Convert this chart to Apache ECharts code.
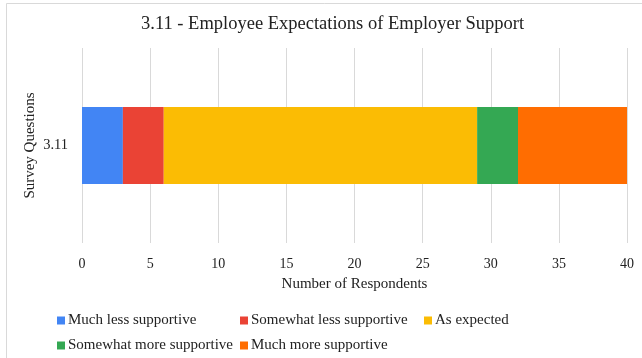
<!DOCTYPE html>
<html>
<head>
<meta charset="utf-8">
<script src="https://cdn.jsdelivr.net/npm/echarts@6/dist/echarts.min.js"></script>
<style>
  html, body { margin: 0; padding: 0; background: #fff; }
  #chart { width: 642px; height: 358px; }
</style>
</head>
<body>
<div id="chart"></div>
<script>
// Survey question(s) shown on the category axis
const questions = ['3.11'];

// Response options, in stacking order
const responses = [
  'Much less supportive',
  'Somewhat less supportive',
  'As expected',
  'Somewhat more supportive',
  'Much more supportive'
];

// Respondent counts per response option
const muchLess = [3];
const somewhatLess = [3];
const asExpected = [23];
const somewhatMore = [3];
const muchMore = [8];

const counts = [muchLess, somewhatLess, asExpected, somewhatMore, muchMore];
const colors = ['#4285F4', '#EA4335', '#FBBC04', '#34A853', '#FF6D01'];

const FONT = '"Liberation Serif", "Times New Roman", serif';

const chart = echarts.init(document.getElementById('chart'), null, { renderer: 'canvas' });

// Legend laid out as two aligned rows
const legendSlots = [
  { left: 52, top: 308 },
  { left: 235, top: 308 },
  { left: 419, top: 308 },
  { left: 52, top: 333 },
  { left: 235, top: 333 }
];

chart.setOption({
  animation: false,
  backgroundColor: '#ffffff',
  title: {
    text: '3.11 - Employee Expectations of Employer Support',
    left: 136,
    top: 10,
    textStyle: { fontFamily: FONT, fontSize: 18.5, fontWeight: 'normal', color: '#222' }
  },
  graphic: [{
    type: 'rect',
    shape: { x: 6.5, y: 3.5, width: 700, height: 400 },
    style: { fill: 'none', stroke: '#d9d9d9', lineWidth: 1 },
    silent: true
  }],
  legend: responses.map((name, i) => ({
    data: [name],
    left: legendSlots[i].left,
    top: legendSlots[i].top,
    itemWidth: 8,
    itemHeight: 8,
    itemGap: 0,
    icon: 'rect',
    textStyle: { fontFamily: FONT, fontSize: 15, color: '#222', padding: [0, 0, 0, -2] }
  })),
  grid: { left: 82, right: 15, top: 48, bottom: 115, containLabel: false },
  xAxis: {
    type: 'value',
    min: 0,
    max: 40,
    interval: 5,
    name: 'Number of Respondents',
    nameLocation: 'middle',
    nameGap: 34,
    nameMoveOverlap: false,
    nameTextStyle: { fontFamily: FONT, fontSize: 15, color: '#222' },
    axisLine: { show: false },
    axisTick: { show: false },
    axisLabel: { fontFamily: FONT, fontSize: 14, color: '#222', margin: 14 },
    splitLine: { show: true, lineStyle: { color: '#d9d9d9', width: 1 } }
  },
  yAxis: {
    type: 'category',
    data: questions,
    name: 'Survey Questions',
    nameLocation: 'middle',
    nameGap: 44,
    nameMoveOverlap: false,
    nameRotate: 90,
    nameTextStyle: { fontFamily: FONT, fontSize: 15, color: '#222' },
    axisLine: { show: false },
    axisTick: { show: false },
    axisLabel: { fontFamily: FONT, fontSize: 14.5, color: '#222', margin: 14 },
    splitLine: { show: false }
  },
  series: responses.map((name, i) => ({
    name: name,
    type: 'bar',
    stack: 'total',
    barWidth: 77,
    itemStyle: { color: colors[i] },
    data: counts[i]
  }))
});
</script>
</body>
</html>
